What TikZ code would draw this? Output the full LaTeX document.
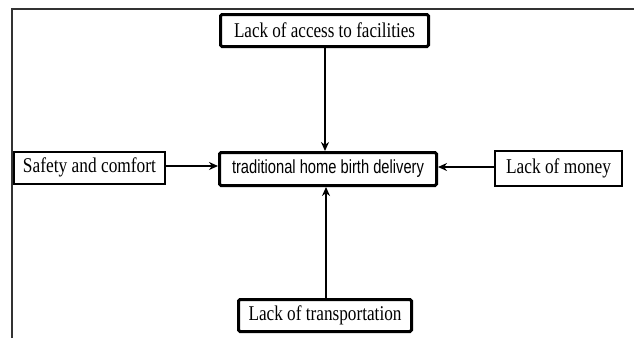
\documentclass[tikz,border=0pt]{standalone}
\usepackage{fontspec}
\setmainfont{Liberation Serif}
\newfontfamily\sansf{Liberation Sans}
\usetikzlibrary{arrows.meta}
\newcommand{\fitw}[2]{\resizebox{#1}{\height}{#2}}
\tikzset{
  thickbox/.style={draw, line width=3pt, rounded corners=1.5pt, inner sep=0pt, fill=white, font=\fontsize{21}{23}\selectfont},
  thinbox/.style={draw, line width=2pt, inner sep=0pt, fill=white, font=\fontsize{21}{23}\selectfont},
  arr/.style={line width=1.8pt, -{Stealth[length=9pt,width=8pt]}}
}
\begin{document}
\begin{tikzpicture}[x=1pt,y=-1pt]
\useasboundingbox (0,0) rectangle (634,338);
\draw[line width=1.3pt, black!80] (12,338) -- (12,9) -- (634,9);
\node[thickbox, minimum width=208pt, minimum height=32pt] (top) at (324.5,30.5) {\fitw{181pt}{Lack of access to facilities}};
\node[thinbox, minimum width=151pt, minimum height=32pt] (safety) at (89.5,167.5) {\fitw{133pt}{Safety and comfort}};
\node[thickbox, minimum width=217pt, minimum height=33pt, font=\sansf\fontsize{19}{21}\selectfont] (center) at (328,169) {\fitw{192pt}{traditional home birth delivery}};
\node[thinbox, minimum width=127pt, minimum height=35pt] (money) at (558.5,168.5) {\fitw{105pt}{Lack of money}};
\node[thickbox, minimum width=173pt, minimum height=32pt] (bottom) at (325,315.5) {\fitw{153pt}{Lack of transportation}};
\draw[arr] ([xshift=0.5pt]top.south) -- ([xshift=0.5pt]top.south |- center.north);
\draw[arr] ([xshift=1pt]bottom.north) -- ([xshift=1pt]bottom.north |- center.south);
\draw[arr] ([yshift=1.5pt]safety.east) -- ([yshift=1.5pt]safety.east -| center.west);
\draw[arr] ([yshift=1.5pt]money.west) -- ([yshift=1.5pt]money.west -| center.east);
\end{tikzpicture}
\end{document}
